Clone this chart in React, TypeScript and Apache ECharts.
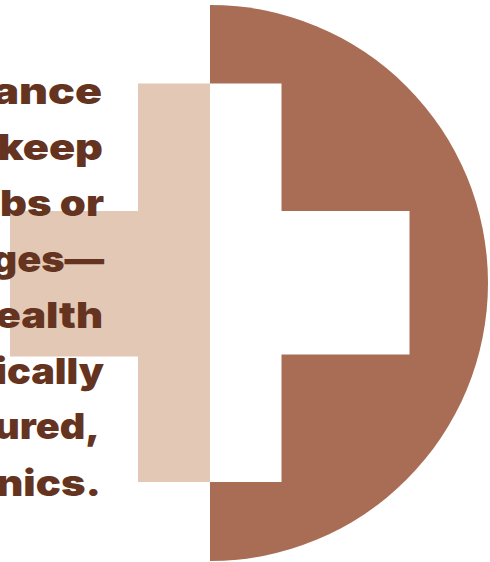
import React, { useEffect, useRef } from "react";
import * as echarts from "echarts";

const WIDTH = 490;
const HEIGHT = 562;

const semicircleValues = [50, 50];
const paleCrossRects = [
  [138, 210, 83.5, 482],
  [10, 150, 211, 356.5],
];
const whiteCrossRects = [
  [210, 281.5, 83.5, 482],
  [270, 409.5, 211, 354.5],
];
const textLines = ["ance", "keep", "bs or", "ges—", "ealth", "ically", "ured,", "nics."];
const textBaselines = [103, 159, 215, 271, 327, 383, 438, 495];
const textRightEdges = [102, 103, 104, 104, 103, 104, 100, 101];
const textScalesX = [1.24, 1.2, 1.16, 1.1, 1.16, 1.1, 1.1, 1.16];

const BROWN = "#A96D55";
const PALE = "#E4C8B6";
const DARK = "#653420";
const FONT = "900 36px Inter";
const BASELINE_OFFSET = 6;

const rectSeries = (rects: number[][], color: string, z: number) => ({
  type: "custom",
  coordinateSystem: "cartesian2d",
  silent: true,
  z,
  clip: false,
  data: rects,
  renderItem: (_p: any, api: any) => {
    const a = api.coord([api.value(0), api.value(2)]);
    const b = api.coord([api.value(1), api.value(3)]);
    return {
      type: "rect",
      shape: { x: a[0], y: a[1], width: b[0] - a[0], height: b[1] - a[1] },
      style: { fill: color },
    };
  },
});

export default function App() {
  const ref = useRef<HTMLDivElement>(null);
  useEffect(() => {
    document.body.style.margin = "0";
    const chart = echarts.init(ref.current!, undefined, { renderer: "svg" });
    chart.setOption({
      animation: false,
      backgroundColor: "#FFFFFF",
      grid: { left: 0, right: 0, top: 0, bottom: 0 },
      xAxis: { type: "value", min: 0, max: WIDTH, show: false },
      yAxis: { type: "value", min: 0, max: HEIGHT, inverse: true, show: false },
      series: [
        {
          type: "pie",
          silent: true,
          z: 1,
          center: [210, 283],
          radius: [0, 278],
          startAngle: 90,
          clockwise: true,
          label: { show: false },
          labelLine: { show: false },
          emphasis: { disabled: true },
          data: [
            { value: semicircleValues[0], itemStyle: { color: BROWN } },
            { value: semicircleValues[1], itemStyle: { color: "transparent" } },
          ],
        },
        rectSeries(paleCrossRects, PALE, 2),
        rectSeries(whiteCrossRects, "#FFFFFF", 3),
        {
          type: "custom",
          coordinateSystem: "cartesian2d",
          silent: true,
          z: 4,
          clip: false,
          data: textLines.map((_, i) => [textRightEdges[i], textBaselines[i] + BASELINE_OFFSET]),
          renderItem: (p: any, api: any) => {
            const c = api.coord([api.value(0), api.value(1)]);
            return {
              type: "text",
              x: c[0],
              y: c[1],
              scaleX: textScalesX[p.dataIndex],
              style: {
                x: 0,
                y: 0,
                text: textLines[p.dataIndex],
                align: "right",
                verticalAlign: "bottom",
                font: FONT,
                fill: DARK,
              },
            };
          },
        },
      ],
    });
    return () => chart.dispose();
  }, []);
  return <div ref={ref} style={{ position: "fixed", left: 0, top: 0, width: WIDTH, height: HEIGHT }} />;
}
